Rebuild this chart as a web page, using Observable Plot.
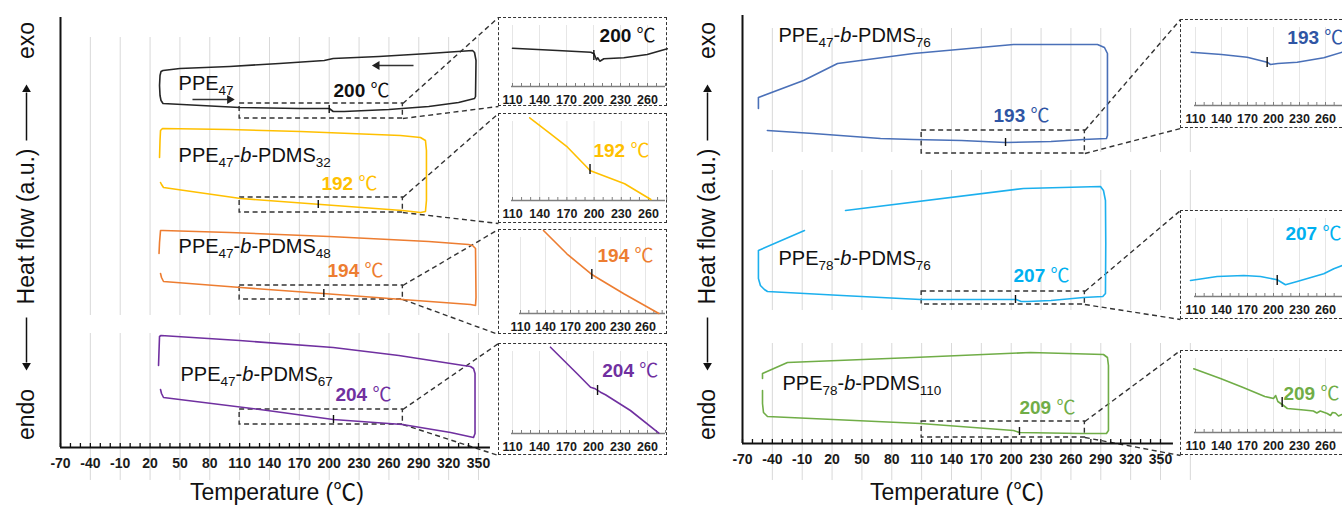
<!DOCTYPE html>
<html><head><meta charset="utf-8">
<script src="https://cdn.jsdelivr.net/npm/d3@7"></script>
<script src="https://cdn.jsdelivr.net/npm/@observablehq/plot@0.6"></script>
<style>
body{margin:0;background:#fff}
#fig{position:relative;width:1342px;height:507px;overflow:hidden;background:#fff}
#fig > svg{position:absolute;top:0}
.inset{position:absolute;background:#fff;border:1.5px dashed #333;box-sizing:border-box}
.inset svg{position:absolute;left:-1.5px;top:-1.5px}
</style></head><body><div id="fig"></div>
<script>
const FONT = '"Liberation Sans", Arial, "DejaVu Sans", sans-serif';
const CJK = '"Noto Sans CJK SC", "DejaVu Sans", sans-serif';

// ---------------- data ----------------
const mainTicks = [-70,-40,-10,20,50,80,110,140,170,200,230,260,290,320,350];
const minorTicks = [-70,-60,-50,-40,-30,-20,-10,0,10,20,30,40,50,60,70,80,90,100,110,120,130,140,150,160,170,180,190,200,210,220,230,240,250,260,270,280,290,300,310,320,330,340,350];
const insetTicks = [110,140,170,200,230,260];
const insetMinor = [110,120,130,140,150,160,170,180,190,200,210,220,230,240,250,260,270,280];
const gridLeft = [-40,-10,20,50,80,110,140,170,200,230,260,290,320,350];
const gridRight = [-40,-10,20,50,80,110,140,170,200,230,260,290,320,350,380];

const leftNames = ["PPE47","PPE47-b-PDMS32","PPE47-b-PDMS48","PPE47-b-PDMS67"];
const leftTg = [200,192,194,204];
const rightNames = ["PPE47-b-PDMS76","PPE78-b-PDMS76","PPE78-b-PDMS110"];
const rightTg = [193,207,209];

// main DSC loops: [temperature °C, heat flow (a.u.)]
const ppe47 = [[33,344],[110,340],[170,339],[200,339],[204,336],[215,336],[260,338],[300,341],[330,345],[342,348],[346,349],[347,351],[347.5,387],[346,395],[344,397],[300,394],[250,391],[204,389],[195,387],[150,384],[100,381],[50,379],[33,377],[31,376],[30,372],[29.5,362],[30,352],[31,347],[33,344]];
const ppe47b32 = [[29.5,290],[30,307],[30.5,317],[32.5,319],[100,318],[171,316],[271.6,312],[291.7,310],[296.7,307],[297.7,297],[297.7,247],[296.7,236],[291.7,235],[273.6,237],[192,243],[111,249],[33.5,260],[31.5,263],[30.5,265]];
const ppe47b48 = [[29,194],[29.5,205],[30.5,217],[33,217],[100,215],[200,211],[300,206],[340,203],[344,202],[347,199],[347.5,150],[347,142],[342,143],[273.6,148],[194,154],[111,160],[33.5,166],[31.5,170],[30.5,174]];
const ppe47b67 = [[28.5,82],[29,97],[29.5,111],[31,112],[110,107],[204,100],[270,92],[335,82],[342,81],[345,79],[346.5,74],[346.5,14],[345,10],[322,15],[273.6,23],[204,28],[138,37],[33.5,50],[31.5,54],[30.5,58]];
const ppe47b76 = [[-54,335],[-54,346],[-8.7,363],[25.5,380],[101.8,390],[202.3,399],[286.7,399],[293.7,396],[296.7,390],[296.7,308],[295.7,305],[272.6,304],[240,302],[194,301],[150,303],[101.8,304],[68.7,305],[1,310],[-45,313]];
const ppe78b76 = [[-7.7,213],[-54,193],[-54,165],[-52,158],[-48,154],[-44.9,152],[30,148],[108.8,144],[205,144],[210,142],[216.4,142],[240,143],[272.6,146],[292,147],[294.7,150],[295,200],[294.7,243],[292.7,253],[289.7,257],[212.3,255],[33.5,233]];
const ppe78b110 = [[-49.9,53],[-49.9,40],[-48.9,31],[-44.9,27],[108.8,20],[202.3,13],[208.3,11],[269.6,10],[295.7,10],[297.7,13],[297.7,78],[296.7,86],[292.7,89],[219.4,91],[101.8,86],[-24.8,81],[-49.9,70],[-49.9,65]];

// zoomed 110-280 °C views
const ppe47Zoom = [[110,38.3],[160,36],[197,34.3],[200.6,32.7],[203.3,26.7],[204.8,28.7],[207,25.3],[211.5,27.7],[233.7,28.7],[259.7,32],[282,37.7]];
const ppe47b32Zoom = [[129,82.7],[152,66.7],[170.7,53.3],[194.8,30.7],[196.7,29.5],[233.7,16.7],[262.6,1]];
const ppe47b48Zoom = [[137.6,83],[165.6,59.7],[193.6,40.3],[195.6,39],[206,33.7],[234,19.7],[276,0]];
const ppe47b67Zoom = [[152.2,86.3],[181.9,59.7],[196.7,46.3],[202,44.7],[207.8,41.3],[213.3,38.7],[241,23],[272.6,0.3]];
const ppe47b76Zoom = [[105,53.3],[140,51],[169.6,48.3],[192.7,43.3],[196.5,41],[205,42],[227.3,43.3],[258,47.7],[279.3,53.3]];
const ppe78b76Zoom = [[104.2,16],[135,20],[165.8,21],[185,20],[204.3,16.7],[213.8,11.7],[227.3,15],[258,22.7],[269.6,27.7],[279.3,31]];
const ppe78b110Zoom = [[108,63.7],[138.8,54],[165,45],[190,36],[200,34],[202.5,37],[205,31],[210,28],[216,24],[235,22.5],[246,21.5],[250,19.5],[254,21.5],[262,19],[265.8,17],[268,20],[271.5,19.5],[275,16.5],[279,18]];

// Tg markers: [T, heat flow]
const leftMarkers = [[200,338],[189,243],[194.6,154],[204.3,28]];
const rightMarkers = [[194.3,301],[204.3,144],[208.3,12]];
const leftZoomMarkers = [[200.4,31],[195.5,31],[195.6,39],[204.5,43]];
const rightZoomMarkers = [[192.7,43],[204.3,16],[210,30]];

// zoom windows on the main curves: [heat flow low, high]
const leftBoxes = [[329,344],[235,250],[148,162],[23,38]];
const rightBoxes = [[290,313],[139,152],[6,22]];
const boxRange = [110,274];

// ---------------- styles / layout ----------------
const leftColors = ["#262626","#FFC000","#ED7D31","#7030A0"];
const leftLabelColors = ["#111111","#FFC000","#ED7D31","#7030A0"];
const rightColors = ["#4A70B8","#1CB0EE","#70AD47"];
const rightLabelColors = ["#2F55A4","#00B0F0","#70AD47"];

const layout = {
  left: {left:0, width:680, mL:60, mR:202, mT:17, mB:60, yMax:430, axisEnd:362, ylabX:26, titleX:276.5,
    bands:[[132,410],[-33,114]],
    names:[[48.6,364],[48.6,292],[48.6,201],[50.6,73]],
    tgLabels:[[204.3,357],[192.2,264],[198.3,177],[206.3,53]],
    insets:[
      {left:498,top:17,right:667,bottom:106,axisY:86,x110:512,x260:647,lab:[269,51],anchor:"end"},
      {left:498,top:113,right:667,bottom:223,axisY:200,x110:512,x260:648,lab:[261,50],anchor:"end"},
      {left:498,top:229,right:667,bottom:334,axisY:313,x110:520,x260:645,lab:[269.6,58],anchor:"end"},
      {left:498,top:343,right:667,bottom:455,axisY:433,x110:512,x260:647,lab:[272,63],anchor:"end"}]},
  right: {left:680, width:662, mL:62, mR:182, mT:15, mB:64, yMax:428, axisEnd:363, ylabX:27, titleX:276.5,
    bands:[[291,415],[133,273],[-37,100]],
    names:[[-33.8,408],[-33.8,185],[-29.8,60]],
    tgLabels:[[182.2,328],[202.3,168],[208.3,36]],
    insets:[
      {left:1180,top:19,right:1352,bottom:128,axisY:105,x110:1195,x260:1325,lab:[216,68],anchor:"start"},
      {left:1180,top:210,right:1352,bottom:319,axisY:296,x110:1195,x260:1325,lab:[213.8,63],anchor:"start"},
      {left:1180,top:350,right:1352,bottom:455,axisY:432,x110:1195,x260:1325,lab:[211.5,39],anchor:"start"}]}
};

const leftSamples = leftNames.map((name,i) => ({name, tg:leftTg[i], color:leftColors[i], labelColor:leftLabelColors[i],
  curve:[ppe47,ppe47b32,ppe47b48,ppe47b67][i], zoom:[ppe47Zoom,ppe47b32Zoom,ppe47b48Zoom,ppe47b67Zoom][i],
  marker:leftMarkers[i], zoomMarker:leftZoomMarkers[i], box:leftBoxes[i]}));
const rightSamples = rightNames.map((name,i) => ({name, tg:rightTg[i], color:rightColors[i], labelColor:rightLabelColors[i],
  curve:[ppe47b76,ppe78b76,ppe78b110][i], zoom:[ppe47b76Zoom,ppe78b76Zoom,ppe78b110Zoom][i],
  marker:rightMarkers[i], zoomMarker:rightZoomMarkers[i], box:rightBoxes[i]}));

// ---------------- helpers ----------------
const NS = "http://www.w3.org/2000/svg";
function span(t, s, attrs = {}) {
  const ts = document.createElementNS(NS, "tspan");
  ts.textContent = s;
  for (const k in attrs) ts.setAttribute(k, attrs[k]);
  t.appendChild(ts);
}
function enrich(svg) {
  svg.querySelectorAll("text").forEach(t => {
    if (t.querySelector("tspan")) return;
    const s = t.textContent;
    let m;
    if ((m = s.match(/^PPE(\d+)(?:-b-PDMS(\d+))?$/))) {
      t.textContent = "";
      span(t, "PPE");
      span(t, m[1], {"font-size": 13.5, dy: 5});
      if (m[2]) {
        span(t, "-", {dy: -5});
        span(t, "b", {"font-style": "italic"});
        span(t, "-PDMS");
        span(t, m[2], {"font-size": 13.5, dy: 5});
      }
    } else if (s.includes("℃")) {
      const [a, b] = s.split("℃");
      t.textContent = "";
      span(t, a);
      span(t, "℃", {"font-family": CJK, "font-weight": "normal"});
      if (b) span(t, b);
    }
  });
}

const fig = document.getElementById("fig");

function mainPanel(p, samples, grid) {
  const H = 507;
  const xs = Plot.scale({x: {domain: [-70, 350], range: [p.mL, p.width - p.mR]}});
  const ys = Plot.scale({y: {domain: [0, p.yMax], range: [H - p.mB, p.mT]}});
  const vx = px => xs.invert(px), vy = py => ys.invert(py);
  const marks = [];
  const gridData = p.bands.flatMap(([y1, y2]) => grid.map(x => ({x, y1, y2})));
  marks.push(Plot.ruleX(gridData, {x: "x", y1: "y1", y2: "y2", stroke: "#d9d9d9", strokeWidth: 1}));
  samples.forEach((s, i) => {
    const L = p.insets[i];
    const [lo, hi] = s.box;
    const ix = vx(L.left - p.left);
    marks.push(Plot.link([{x1: boxRange[1], y1: hi, x2: ix, y2: vy(L.top)}, {x1: boxRange[1], y1: lo, x2: ix, y2: vy(L.bottom)}],
      {x1: "x1", y1: "y1", x2: "x2", y2: "y2", stroke: "#333", strokeWidth: 1.4, strokeDasharray: "5,3.5"}));
    marks.push(Plot.rect([{x1: boxRange[0], x2: boxRange[1], y1: lo, y2: hi}],
      {x1: "x1", x2: "x2", y1: "y1", y2: "y2", fill: "none", stroke: "#333", strokeWidth: 1.4, strokeDasharray: "5,3.5"}));
    marks.push(Plot.line(s.curve, {x: d => d[0], y: d => d[1], stroke: s.color, strokeWidth: 1.6, strokeLinejoin: "round"}));
    marks.push(Plot.ruleX([s.marker], {x: d => d[0], y1: d => d[1] - 4, y2: d => d[1] + 4, stroke: "#111", strokeWidth: 1.4}));
    const np = p.names[i], tp = p.tgLabels[i];
    marks.push(Plot.text([s.name], {x: () => np[0], y: () => np[1], text: d => d, textAnchor: "start", fontSize: 20, fill: "#111"}));
    marks.push(Plot.text([`${s.tg} ℃`], {x: () => tp[0], y: () => tp[1], text: d => d, textAnchor: "start", fontSize: 19, fontWeight: "bold", fill: s.labelColor}));
  });
  if (samples === leftSamples) {
    // scan-direction arrows on the PPE47 loop
    marks.push(Plot.link([{x1: 62.6, x2: 99, y: 348}, {x1: 284.7, x2: 249, y: 382}], {x1: "x1", x2: "x2", y1: "y", y2: "y", stroke: "#333", strokeWidth: 1.5}));
    marks.push(Plot.dot([{x: 100, y: 348, r: 90}, {x: 248, y: 382, r: -90}], {x: "x", y: "y", rotate: "r", symbol: "triangle2", r: 4.2, fill: "#222", stroke: "none"}));
  }
  // axes (ticks point inward, every 10 °C)
  marks.push(Plot.ruleX(minorTicks, {x: d => d, y1: () => 0, y2: () => 4, stroke: "#111", strokeWidth: 1.3}));
  marks.push(Plot.ruleY([{y: 0, x1: -70, x2: p.axisEnd}], {y: "y", x1: "x1", x2: "x2", stroke: "#111", strokeWidth: 2}));
  marks.push(Plot.ruleX([{x: -70, y1: 0, y2: p.yMax}], {x: "x", y1: "y1", y2: "y2", stroke: "#111", strokeWidth: 2}));
  marks.push(Plot.text(mainTicks, {x: d => d, y: () => 0, dy: 16, text: d => String(d), fontSize: 14, fontWeight: "bold", fill: "#1a1a1a"}));
  // y label
  const lx = vx(p.ylabX);
  marks.push(Plot.text(["exo", "Heat flow (a.u.)", "endo"], {x: () => lx, y: (d, i) => vy([40, 226, 414][i]), text: d => d, rotate: -90, fontSize: 23, fill: "#111"}));
  marks.push(Plot.link([{y1: 140, y2: 92}, {y1: 317, y2: 362}], {x1: () => lx, x2: () => lx, y1: d => vy(d.y1), y2: d => vy(d.y2), stroke: "#111", strokeWidth: 1.5}));
  marks.push(Plot.dot([{y: 89, r: 0}, {y: 365, r: 180}], {x: () => lx, y: d => vy(d.y), rotate: "r", symbol: "triangle2", r: 4.2, fill: "#111", stroke: "none"}));
  // x title
  marks.push(Plot.text(["Temperature (℃)"], {x: () => vx(p.titleX), y: () => vy(492), text: d => d, fontSize: 23, fill: "#111"}));

  const svg = Plot.plot({
    width: p.width, height: H,
    marginLeft: p.mL, marginRight: p.mR, marginTop: p.mT, marginBottom: p.mB,
    x: {domain: [-70, 350], range: [p.mL, p.width - p.mR], axis: null},
    y: {domain: [0, p.yMax], range: [H - p.mB, p.mT], axis: null},
    style: {fontFamily: FONT, background: "transparent", overflow: "visible", color: "#111"},
    marks
  });
  svg.style.left = p.left + "px";
  svg.style.maxWidth = "none";
  enrich(svg);
  fig.appendChild(svg);
}

function insetPanel(L, s) {
  const w = L.right - L.left, h = L.bottom - L.top;
  const div = document.createElement("div");
  div.className = "inset";
  Object.assign(div.style, {left: L.left + "px", top: L.top + "px", width: w + "px", height: h + "px"});
  const mL = L.x110 - L.left, mR = w - (L.x260 - L.left), mB = L.bottom - L.axisY;
  const yMax = L.axisY - L.top;
  const xs = Plot.scale({x: {domain: [110, 260], range: [mL, w - mR]}});
  const marks = [
    Plot.ruleX(insetTicks, {x: d => d, y1: () => 0, y2: () => yMax - 8, stroke: "#e6e6e6", strokeWidth: 1}),
    Plot.ruleY([{y: 0, x1: xs.invert(mL - 1), x2: xs.invert(w - 2)}], {y: "y", x1: "x1", x2: "x2", stroke: "#7f7f7f", strokeWidth: 1.3}),
    Plot.ruleX(insetMinor, {x: d => d, y1: () => 0, y2: () => 3, stroke: "#7f7f7f", strokeWidth: 1}),
    Plot.text(insetTicks, {x: d => d, y: () => 0, dy: 13.5, text: d => String(d), fontSize: 12.5, fontWeight: "bold", fill: "#1a1a1a"}),
    Plot.line(s.zoom, {x: d => d[0], y: d => d[1], stroke: s.color, strokeWidth: 1.6, strokeLinejoin: "round"}),
    Plot.ruleX([s.zoomMarker], {x: d => d[0], y1: d => d[1] - 5, y2: d => d[1] + 5, stroke: "#111", strokeWidth: 1.4}),
    Plot.text([`${s.tg} ℃`], {x: () => L.lab[0], y: () => L.lab[1], text: d => d, textAnchor: L.anchor, fontSize: 19, fontWeight: "bold", fill: s.labelColor})
  ];
  const svg = Plot.plot({
    width: w, height: h, marginLeft: mL, marginRight: mR, marginTop: 0, marginBottom: mB,
    x: {domain: [110, 260], range: [mL, w - mR], axis: null},
    y: {domain: [0, yMax], range: [yMax, 0], axis: null},
    style: {fontFamily: FONT, background: "transparent", overflow: "visible", color: "#111"},
    marks
  });
  svg.style.maxWidth = "none";
  enrich(svg);
  div.appendChild(svg);
  fig.appendChild(div);
}

mainPanel(layout.left, leftSamples, gridLeft);
mainPanel(layout.right, rightSamples, gridRight);
leftSamples.forEach((s, i) => insetPanel(layout.left.insets[i], s));
rightSamples.forEach((s, i) => insetPanel(layout.right.insets[i], s));
</script></body></html>
